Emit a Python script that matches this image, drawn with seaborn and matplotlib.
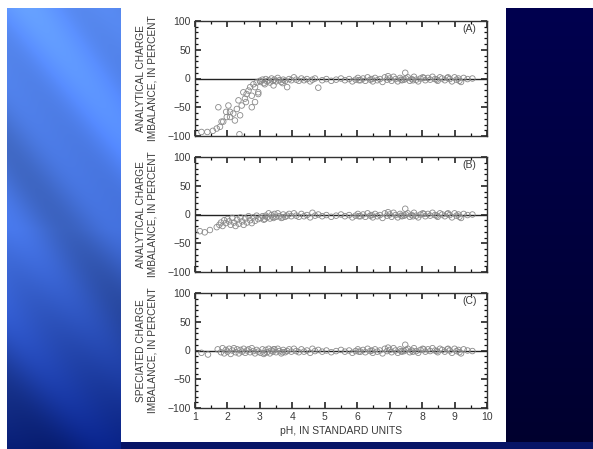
import numpy as np
import pandas as pd
import matplotlib
matplotlib.use("Agg")
import matplotlib.pyplot as plt
from matplotlib.ticker import MultipleLocator
from matplotlib.patches import Rectangle
import seaborn as sns

sns.set_theme(style="ticks")
plt.rcParams['font.family'] = ['Liberation Sans', 'DejaVu Sans']

# ---------------- data ----------------
panel_labels = ["(A)", "(B)", "(C)"]
y_labels = ["ANALYTICAL CHARGE\nIMBALANCE, IN PERCENT",
            "ANALYTICAL CHARGE\nIMBALANCE, IN PERCENT",
            "SPECIATED CHARGE\nIMBALANCE, IN PERCENT"]
x_label = "pH, IN STANDARD UNITS"
x_ticks = [1, 2, 3, 4, 5, 6, 7, 8, 9, 10]
y_ticks = [-100, -50, 0, 50, 100]

# shared samples above pH 3
band_ph = [3.02, 3.08, 3.12, 3.18, 3.22, 3.27, 3.31, 3.36, 3.40, 3.45,
           3.50, 3.55, 3.60, 3.66, 3.72, 3.78, 3.84, 3.90, 3.97, 4.05,
           4.12, 4.20, 4.28, 4.36, 4.45, 4.55, 4.62, 4.70, 4.80, 4.92,
           5.05, 5.20, 5.35, 5.50, 5.62, 5.75, 5.85, 5.95, 6.02, 6.10,
           6.18, 6.25, 6.32, 6.40, 6.48, 6.55, 6.62, 6.70, 6.78, 6.85,
           6.92, 7.00, 7.06, 7.12, 7.18, 7.25, 7.32, 7.38, 7.45, 7.50,
           7.56, 7.62, 7.68, 7.75, 7.82, 7.88, 7.95, 8.02, 8.10, 8.18,
           8.25, 8.32, 8.40, 8.48, 8.55, 8.62, 8.70, 8.78, 8.85, 8.92,
           9.00, 9.06, 9.12, 9.20, 9.28, 9.40, 9.55, 3.15, 3.42, 3.70,
           6.05, 6.45, 6.95, 7.35, 7.72, 8.05, 8.45, 8.80, 9.15, 7.48]

band_a = [-6, -2, -8, -1, -5, -3, -7, 0, -4, -2,
          -5, 1, -3, -6, -2, -4, -15, -1, -3, 2,
          -2, -4, 0, -3, -1, -5, -2, 0, -16, -3,
          -1, -4, -2, 0, -3, -1, -5, -2, 1, -3,
          0, -4, 2, -2, -5, 1, -3, -1, -6, 2,
          -2, 0, -4, 3, -1, -5, 1, -3, -2, 0,
          2, -4, -1, 3, -2, -5, 0, 2, -3, 1,
          -2, 3, -1, -4, 2, 0, -3, 1, -1, -5,
          2, -2, 0, -6, 1, -1, 0, -10, -12, -8,
          -3, -1, 4, -2, -3, 1, -2, 2, -4, 10]

band_b = [-6, -3, -9, -2, -5, 2, -7, -1, -4, 1,
          -4, 2, -3, -6, 0, -4, -2, 1, -3, 2,
          -2, -4, 1, -3, -1, -5, 3, -2, 0, -3,
          -1, -4, -2, 0, -3, -1, -5, -2, 1, -3,
          0, -4, 2, -2, -5, 1, -3, -1, -6, 2,
          -2, 0, -4, 3, -1, -5, 1, -3, -2, 0,
          2, -4, -1, 3, -2, -5, 0, 2, -3, 1,
          -2, 3, -1, -4, 2, 0, -3, 1, -1, -5,
          2, -2, 0, -6, 1, -1, 0, -8, -6, -5,
          -3, -1, 4, -2, -3, 1, -2, 2, -4, 10]

band_c = [-4, 2, -6, 1, -3, 3, -5, 0, -2, 2,
          -3, 3, -1, -5, 1, -3, -1, 2, -2, 3,
          -1, -3, 2, -2, 0, -4, 3, -1, 1, -2,
          0, -3, -1, 1, -2, 0, -4, -1, 2, -2,
          1, -3, 3, -1, -4, 2, -2, 0, -5, 3,
          -1, 1, -3, 4, 0, -4, 2, -2, -1, 1,
          3, -3, 0, 4, -1, -4, 1, 3, -2, 2,
          -1, 4, 0, -3, 3, 1, -2, 2, 0, -4,
          3, -1, 1, -5, 2, 0, -1, -4, 2, -3,
          -2, 0, 5, -1, -2, 2, -1, 3, -3, 10]

# low-pH samples
low_ph_a = [1.20, 1.38, 1.55, 1.67, 1.72, 1.77, 1.82, 1.87, 1.96, 1.98,
            2.03, 2.08, 2.08, 2.18, 2.23, 2.29, 2.34, 2.37, 2.39, 2.44,
            2.49, 2.54, 2.57, 2.59, 2.65, 2.70, 2.75, 2.75, 2.80, 2.85,
            2.85, 2.90, 2.95, 2.95, 3.00]
low_val_a = [-93, -93, -91, -87, -50, -84, -75, -75, -58, -67,
             -47, -58, -67, -61, -73, -53, -38, -97, -64, -47,
             -24, -35, -41, -27, -21, -15, -30, -50, -10, -41,
             -15, -7, -24, -27, -4]

low_ph_b = [1.15, 1.30, 1.46, 1.67, 1.75, 1.80, 1.85, 1.90, 1.95, 2.00,
            2.05, 2.10, 2.15, 2.20, 2.25, 2.30, 2.35, 2.40, 2.45, 2.50,
            2.55, 2.60, 2.65, 2.70, 2.75, 2.80, 2.85, 2.90, 2.95]
low_val_b = [-29, -31, -27, -22, -18, -14, -20, -10, -15, -8,
             -12, -18, -6, -14, -20, -9, -16, -5, -12, -18,
             -7, -14, -3, -10, -15, -5, -11, -2, -8]

low_ph_c = [1.20, 1.40, 1.70, 1.80, 1.85, 1.90, 1.95, 2.00, 2.05, 2.10,
            2.15, 2.20, 2.25, 2.30, 2.35, 2.40, 2.45, 2.50, 2.55, 2.60,
            2.65, 2.70, 2.75, 2.80, 2.85, 2.90, 2.95]
low_val_c = [-4, -7, 2, -3, 4, -5, 1, -2, 3, -6,
             0, 4, -3, 2, -5, 1, -2, 3, -4, 0,
             2, -3, 4, -1, -5, 1, -2]

panels = [
    pd.DataFrame({"pH": low_ph_a + band_ph, "imb": low_val_a + band_a}),
    pd.DataFrame({"pH": low_ph_b + band_ph, "imb": low_val_b + band_b}),
    pd.DataFrame({"pH": low_ph_c + band_ph, "imb": low_val_c + band_c}),
]

# ---------------- figure ----------------
W, H = 593, 449
fig = plt.figure(figsize=(W / 100, H / 100), dpi=100)
fig.patch.set_facecolor("white")

# slide background (decoration)
bg_w, bg_h = W - 7, H - 8
yy, xx = np.mgrid[0:bg_h, 0:bg_w]
t = yy / bg_h
top_c = np.array([0.35, 0.55, 0.96])
mid_c = np.array([0.27, 0.45, 0.88])
bot_c = np.array([0.03, 0.12, 0.48])
tt = t[..., None]
base = np.where(tt < 0.5,
                top_c * (1 - 2 * tt) + mid_c * (2 * tt),
                mid_c * (2 - 2 * tt) + bot_c * (2 * tt - 1))
d = xx * 0.8 - yy * 0.6
streak = 0.10 * np.sin(d / 30.0 + 1.0) + 0.05 * np.sin(d / 11.0)
img = np.clip(base * (1 + streak[..., None]), 0, 1)
right_mask = xx >= (506 - 7)
rt = np.array([0.0, 0.0, 0.31]) * (1 - tt) + np.array([0.0, 0.0, 0.18]) * tt
img[right_mask] = rt[right_mask]
bottom_mask = (yy >= 442 - 8) & (xx >= 114)
img[bottom_mask] = np.array([0.03, 0.08, 0.40])
bgax = fig.add_axes([7 / W, 0, bg_w / W, bg_h / H], zorder=-10)
bgax.imshow(img, aspect="auto", interpolation="bilinear")
bgax.set_axis_off()

# white panel
fig.patches.append(Rectangle((121 / W, (H - 442) / H), (506 - 121) / W, 441 / H,
                             transform=fig.transFigure, facecolor="white",
                             edgecolor="none", zorder=-5))

ax_left = 195 / W
ax_w = 292 / W
tops = [21, 157, 293]
ax_hpx = 115
txt_col = "#3a3a3a"

for i, df in enumerate(panels):
    top = tops[i]
    ax = fig.add_axes([ax_left, (H - top - ax_hpx) / H, ax_w, ax_hpx / H])
    sns.scatterplot(data=df, x="pH", y="imb", ax=ax, marker="o", s=16,
                    facecolors="none", edgecolor="#8a8a8a", linewidth=0.6,
                    legend=False, zorder=3)
    ax.axhline(0, color="#222222", lw=1.0, zorder=2)
    ax.set_xlim(1, 10)
    ax.set_ylim(-100, 100)
    ax.set_xticks(x_ticks)
    ax.set_yticks(y_ticks)
    ax.xaxis.set_minor_locator(MultipleLocator(0.5))
    ax.yaxis.set_minor_locator(MultipleLocator(10))
    ax.tick_params(which="both", direction="in", top=True, right=True,
                   bottom=True, left=True, color="#111111")
    ax.tick_params(which="major", length=4.5, width=1.1, labelsize=7.5,
                   labelcolor=txt_col, pad=3)
    ax.tick_params(which="minor", length=2.5, width=0.9)
    for sp in ax.spines.values():
        sp.set_visible(True)
        sp.set_color("#333333")
        sp.set_linewidth(1.0)
    ax.set_ylabel(y_labels[i], fontsize=7.3, color=txt_col, linespacing=1.1)
    ax.yaxis.set_label_coords(-0.13, 0.5)
    if i < 2:
        ax.tick_params(axis="x", labelbottom=False)
        ax.set_xlabel("")
    else:
        ax.set_xlabel(x_label, fontsize=7.5, color=txt_col, labelpad=3)
    ax.text(0.94, 0.93, panel_labels[i], transform=ax.transAxes, ha="center",
            va="center", fontsize=7.5, color=txt_col)

fig.savefig("out.png", dpi=100)
